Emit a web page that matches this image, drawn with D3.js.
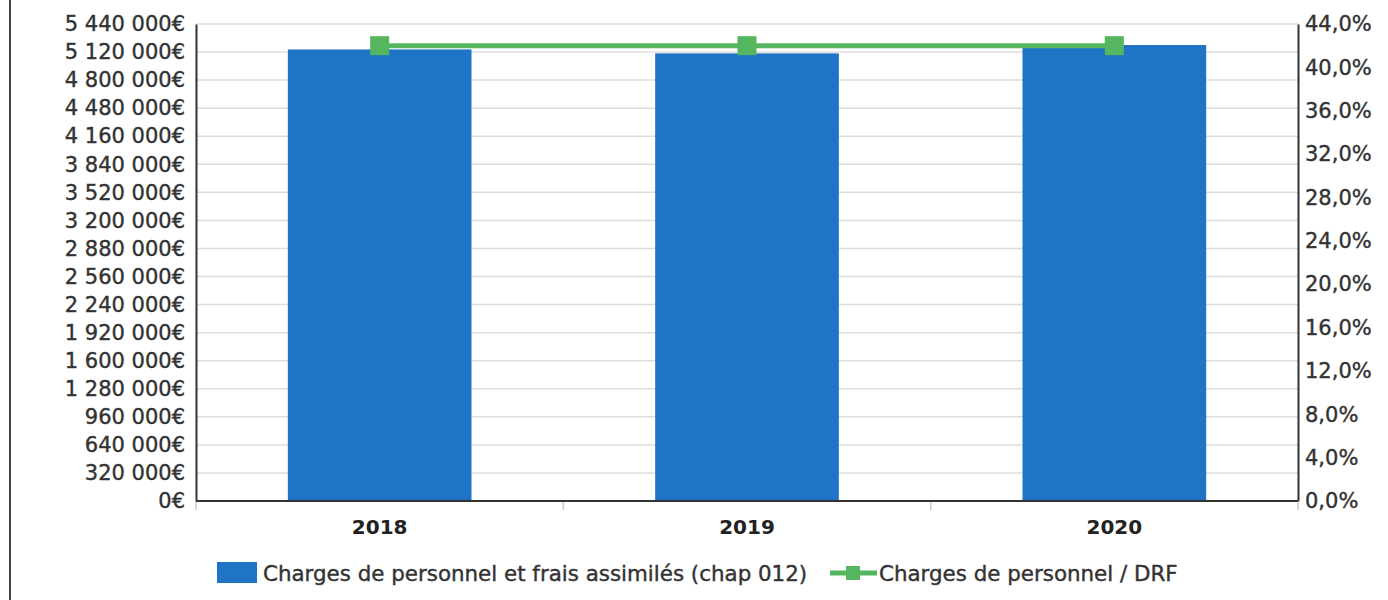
<!DOCTYPE html>
<html>
<head>
<meta charset="utf-8">
<script src="https://cdn.jsdelivr.net/npm/d3@7"></script>
<style>
  html, body { margin: 0; padding: 0; background: #fff; }
  svg { display: block; font-family: "DejaVu Sans", Verdana, sans-serif; }
</style>
</head>
<body>
<svg id="chart" width="1388" height="600"></svg>
<script>
// Chart data
const years = ["2018", "2019", "2020"];
const charges = [5150000, 5105000, 5200000];      // Charges de personnel (chap 012), €
const ratioDRF = [42.0, 42.0, 42.0];              // Charges de personnel / DRF, %
const leftTicks = [0, 320000, 640000, 960000, 1280000, 1600000, 1920000, 2240000, 2560000,
                   2880000, 3200000, 3520000, 3840000, 4160000, 4480000, 4800000, 5120000, 5440000];
const rightTicks = [0, 4, 8, 12, 16, 20, 24, 28, 32, 36, 40, 44];
const seriesNames = ["Charges de personnel et frais assimilés (chap 012)", "Charges de personnel / DRF"];

const barColor = "#1f74c6";
const lineColor = "#55b65f";
const textColor = "#333";

const fr = d3.formatLocale({ decimal: ",", thousands: "\u00a0", grouping: [3], currency: ["", "€"] });
const fmtEuro = v => fr.format(",.0f")(v).replace(/\u00a0/g, " ") + "€";
const fmtPct = v => fr.format(".1f")(v) + "%";

const svg = d3.select("#chart");
const plot = { left: 196, right: 1298, top: 24, bottom: 501 };

const x = d3.scaleBand().domain(years).range([plot.left, plot.right])
  .paddingInner(0.5).paddingOuter(0.25);
const yL = d3.scaleLinear().domain([0, 5440000]).range([plot.bottom, plot.top]);
const yR = d3.scaleLinear().domain([0, 44]).range([plot.bottom, plot.top]);

// outer frame line on the left
svg.append("line").attr("x1", 10).attr("x2", 10).attr("y1", 0).attr("y2", 600)
  .attr("stroke", "#444").attr("stroke-width", 2);

// horizontal grid
svg.append("g").selectAll("line").data(leftTicks.slice(1)).join("line")
  .attr("x1", plot.left).attr("x2", plot.right)
  .attr("y1", d => yL(d)).attr("y2", d => yL(d))
  .attr("stroke", "#dcdcdc").attr("stroke-width", 1.5);

// bars
svg.append("g").selectAll("rect").data(years).join("rect")
  .attr("x", d => x(d)).attr("width", x.bandwidth())
  .attr("y", (d, i) => yL(charges[i]))
  .attr("height", (d, i) => plot.bottom - yL(charges[i]))
  .attr("fill", barColor);

// left axis
const axL = svg.append("g").attr("transform", `translate(${plot.left},0)`)
  .call(d3.axisLeft(yL).tickValues(leftTicks).tickFormat(fmtEuro).tickSize(0).tickPadding(11));
axL.select(".domain").attr("stroke", "#333").attr("stroke-width", 2);
axL.selectAll("text").attr("font-size", 21).attr("fill", textColor)
  .attr("font-family", "DejaVu Sans").attr("stroke", textColor).attr("stroke-width", 0.4);

// right axis
const axR = svg.append("g").attr("transform", `translate(${plot.right},0)`)
  .call(d3.axisRight(yR).tickValues(rightTicks).tickFormat(fmtPct).tickSize(0).tickPadding(7));
axR.select(".domain").attr("stroke", "#333").attr("stroke-width", 2);
axR.selectAll("text").attr("font-size", 21).attr("fill", textColor)
  .attr("font-family", "DejaVu Sans").attr("stroke", textColor).attr("stroke-width", 0.4);

// bottom axis with ticks between categories
const bounds = d3.range(years.length + 1).map(i => plot.left + i * x.step());
svg.append("g").selectAll("line").data(bounds).join("line")
  .attr("x1", d => d).attr("x2", d => d).attr("y1", plot.bottom).attr("y2", plot.bottom + 9)
  .attr("stroke", "#ccc").attr("stroke-width", 1.5);
svg.append("line").attr("x1", plot.left).attr("x2", plot.right)
  .attr("y1", plot.bottom).attr("y2", plot.bottom).attr("stroke", "#333").attr("stroke-width", 2);
svg.append("g").selectAll("text").data(years).join("text")
  .attr("x", d => x(d) + x.bandwidth() / 2).attr("y", 527)
  .attr("text-anchor", "middle").attr("dominant-baseline", "central")
  .attr("font-size", 20).attr("font-weight", "bold").attr("fill", "#222")
  .text(d => d);

// ratio line
const pts = years.map((d, i) => [x(d) + x.bandwidth() / 2, yR(ratioDRF[i])]);
svg.append("path").attr("d", d3.line()(pts)).attr("fill", "none")
  .attr("stroke", lineColor).attr("stroke-width", 5);
svg.append("g").selectAll("rect").data(pts).join("rect")
  .attr("x", d => d[0] - 9.5).attr("y", d => d[1] - 9.5)
  .attr("width", 19).attr("height", 19).attr("fill", lineColor);

// legend
const lg = svg.append("g");
lg.append("rect").attr("x", 217).attr("y", 562).attr("width", 40).attr("height", 21).attr("fill", barColor);
lg.append("text").attr("x", 263).attr("y", 573).attr("dominant-baseline", "central")
  .attr("font-size", 21.4).attr("fill", textColor).attr("stroke", textColor).attr("stroke-width", 0.4)
  .text(seriesNames[0]);
lg.append("line").attr("x1", 830).attr("x2", 877).attr("y1", 573).attr("y2", 573)
  .attr("stroke", lineColor).attr("stroke-width", 5);
lg.append("rect").attr("x", 846).attr("y", 566).attr("width", 14).attr("height", 14).attr("fill", lineColor);
lg.append("text").attr("x", 879).attr("y", 573).attr("dominant-baseline", "central")
  .attr("font-size", 21.4).attr("fill", textColor).attr("stroke", textColor).attr("stroke-width", 0.4)
  .text(seriesNames[1]);
</script>
</body>
</html>
